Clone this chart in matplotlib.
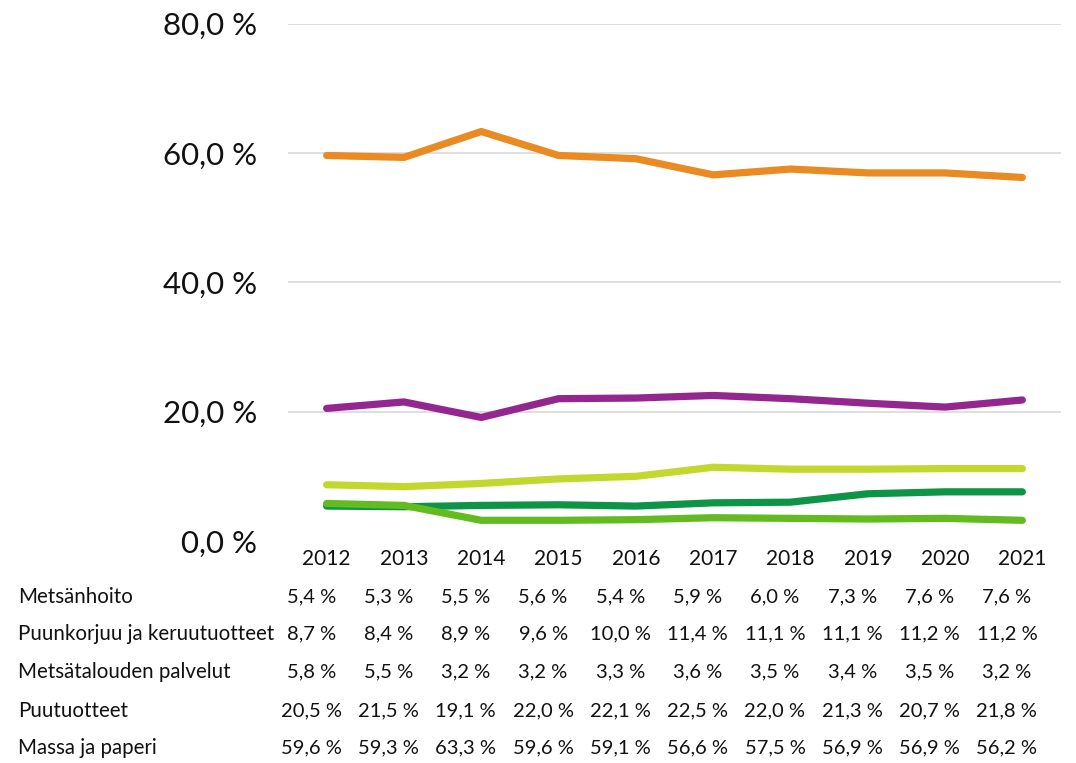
import matplotlib
matplotlib.use("Agg")
import matplotlib.pyplot as plt
from matplotlib.transforms import blended_transform_factory

years = ["2012", "2013", "2014", "2015", "2016", "2017", "2018", "2019", "2020", "2021"]
series_names = ["Metsänhoito", "Puunkorjuu ja keruutuotteet", "Metsätalouden palvelut",
                "Puutuotteet", "Massa ja paperi"]
metsanhoito = [5.4, 5.3, 5.5, 5.6, 5.4, 5.9, 6.0, 7.3, 7.6, 7.6]
puunkorjuu = [8.7, 8.4, 8.9, 9.6, 10.0, 11.4, 11.1, 11.1, 11.2, 11.2]
palvelut = [5.8, 5.5, 3.2, 3.2, 3.3, 3.6, 3.5, 3.4, 3.5, 3.2]
puutuotteet = [20.5, 21.5, 19.1, 22.0, 22.1, 22.5, 22.0, 21.3, 20.7, 21.8]
massa = [59.6, 59.3, 63.3, 59.6, 59.1, 56.6, 57.5, 56.9, 56.9, 56.2]
y_ticks = [0, 20, 40, 60, 80]

all_series = [metsanhoito, puunkorjuu, palvelut, puutuotteet, massa]
colors = ["#0E9447", "#C3D82E", "#62BB1F", "#93278F", "#E98B22"]

FONT = "Lato"
plt.rcParams["font.family"] = [FONT, "DejaVu Sans"]

W, H = 1076, 763
fig = plt.figure(figsize=(W / 100, H / 100), dpi=100)
ax = fig.add_axes([288 / W, 1 - 541 / H, (1061 - 288) / W, (541 - 23.5) / H])

x = list(range(len(years)))
for t in y_ticks[1:]:
    ax.axhline(t, color="#D9D9D9", lw=1.2, zorder=0)

for vals, c in zip(all_series, colors):
    ax.plot(x, vals, color=c, lw=5.2, solid_capstyle="round", solid_joinstyle="round", zorder=2)

ax.set_xlim(-0.5, len(years) - 0.5)
ax.set_ylim(0, 80)
ax.set_yticks(y_ticks)
ax.set_yticklabels([f"{t:.1f}".replace(".", ",") + " %" for t in y_ticks], fontsize=22.5, color="#111111")
ax.tick_params(axis="y", length=0, pad=22)
ax.set_xticks([])
for s in ax.spines.values():
    s.set_visible(False)

tr = blended_transform_factory(ax.transData, fig.transFigure)
for i, yr in enumerate(years):
    ax.text(i, 1 - 559 / H, yr, transform=tr, ha="center", va="center", fontsize=15, color="#111111")

row_y = [597, 634, 672, 711, 748]
for name, vals, ry in zip(series_names, all_series, row_y):
    fig.text(18 / W, 1 - ry / H, name, ha="left", va="center", fontsize=14.8, color="#111111")
    for i, v in enumerate(vals):
        ax.text(i - 0.2, 1 - ry / H, f"{v:.1f}".replace(".", ",") + " %", transform=tr,
                ha="center", va="center", fontsize=14.5, color="#111111")

fig.savefig("out.png", dpi=100)
